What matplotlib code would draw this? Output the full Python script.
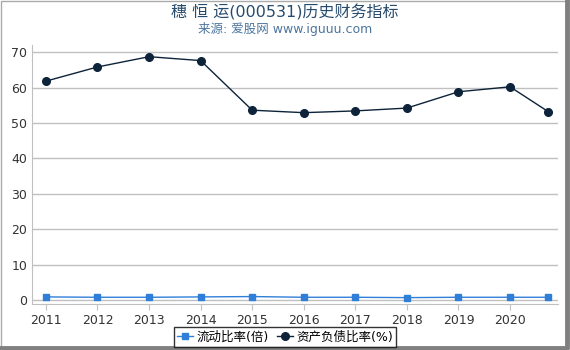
import matplotlib
matplotlib.use('Agg')
import matplotlib.pyplot as plt
from matplotlib.lines import Line2D

plt.rcParams['font.family'] = ['DejaVu Sans', 'Noto Sans CJK SC']

# 数据
years = [2011, 2012, 2013, 2014, 2015, 2016, 2017, 2018, 2019, 2020, 2020.74]
year_labels = ['2011', '2012', '2013', '2014', '2015', '2016', '2017', '2018', '2019', '2020']
current_ratio = [0.9, 0.8, 0.8, 0.9, 1.0, 0.8, 0.8, 0.7, 0.8, 0.8, 0.8]
debt_ratio = [61.8, 65.8, 68.7, 67.6, 53.6, 52.9, 53.4, 54.2, 58.8, 60.2, 53.2]

fig = plt.figure(figsize=(5.7, 3.5), dpi=100)
ax = fig.add_axes([32/570, 1-304/350, 526/570, 259/350])

ax.plot(years, current_ratio, color='#2f7ed8', marker='s', markersize=5, linewidth=1,
        label='流动比率(倍)')
ax.plot(years, debt_ratio, color='#0d233a', marker='o', markersize=5.5, linewidth=1,
        label='资产负债比率(%)')

ax.set_xlim(2010.73, 2020.93)
ax.set_ylim(-1.1, 72)
ax.set_xticks(years[:10])
ax.set_xticklabels(year_labels)
ax.set_yticks(range(0, 80, 10))
ax.grid(axis='y', color='#c0c0c0', linewidth=1)
ax.set_axisbelow(True)
for s in ['top', 'right']:
    ax.spines[s].set_visible(False)
ax.spines['left'].set_color('#c0c0c0')
ax.spines['bottom'].set_color('#c0c0c0')
ax.tick_params(colors='#333333', labelsize=9, length=4)
ax.tick_params(axis='y', color='#c0c0c0', length=0)
ax.tick_params(axis='x', color='#c0c0c0')

fig.text(0.5, 0.965, '穗 恒 运(000531)历史财务指标', ha='center', va='center',
         fontsize=11.5, color='#274b6d')
fig.text(0.5, 0.918, '来源: 爱股网 www.iguuu.com', ha='center', va='center',
         fontsize=9, color='#4d759e')

leg = fig.legend(loc='center', bbox_to_anchor=(285/570, 1-337/350), ncol=2,
                 frameon=True, fontsize=9, handlelength=1.3, handletextpad=0.3,
                 columnspacing=0.6, borderpad=0.25, fancybox=False)
leg.get_frame().set_edgecolor('black')
leg.get_frame().set_linewidth(1)

# 边框
fig.add_artist(Line2D([0.5/570, 0.5/570, 567/570], [0, 349.5/350, 349.5/350],
                      transform=fig.transFigure, color='#aaaaaa', linewidth=1))
fig.add_artist(Line2D([567/570, 567/570, 0], [1, 2/350, 2/350],
                      transform=fig.transFigure, color='#808080', linewidth=3.5))

fig.savefig('out.png', dpi=100)
